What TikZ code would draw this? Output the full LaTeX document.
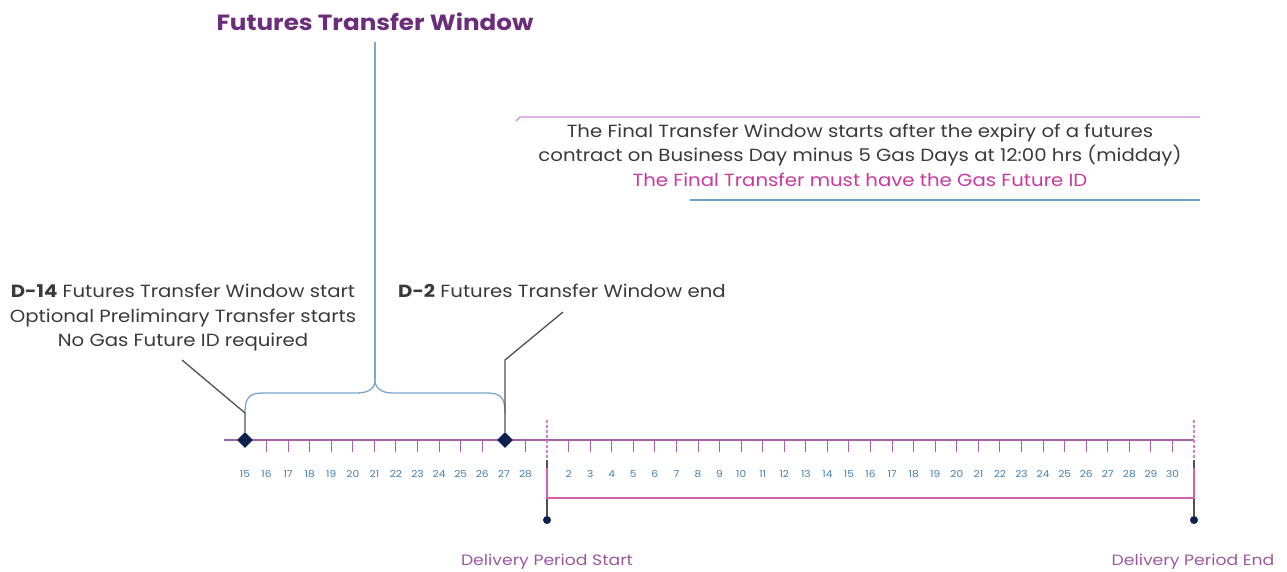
\documentclass[tikz,border=0pt]{standalone}
\usepackage{fontspec}
\setmainfont{Poppins}[FakeStretch=1.12]
\usetikzlibrary{shapes.geometric}
\definecolor{tl}{HTML}{A463A8}
\definecolor{pdash}{HTML}{D77CD0}
\definecolor{ttl}{HTML}{6B2D7B}
\definecolor{brc}{HTML}{7BA7CC}
\definecolor{num}{HTML}{3F7FB0}
\definecolor{gtxt}{HTML}{3A3A3A}
\definecolor{mag}{HTML}{C8389E}
\definecolor{navy}{HTML}{0B2150}
\definecolor{dlv}{HTML}{9B59A0}
\definecolor{lead}{HTML}{505050}
\definecolor{pline}{HTML}{D08AD8}
\definecolor{bline}{HTML}{6AA0CC}
\tikzset{
  body/.style={text=gtxt, font=\fontsize{17.6}{24.5}\selectfont, align=center, inner sep=0pt},
  daynum/.style={text=num, font=\fontsize{9.5}{10}\selectfont, inner sep=0pt},
  tickline/.style={tl, line width=1pt},
  diam/.style={diamond, fill=navy, minimum size=16pt, inner sep=0pt},
  enddot/.style={circle, fill=navy, minimum size=8pt, inner sep=0pt},
  leader/.style={lead, line width=1.3pt},
  dlvlbl/.style={text=dlv, font=\fontsize{15}{17}\selectfont\addfontfeatures{FakeStretch=1.15}, inner sep=0pt},
}
\begin{document}
\begin{tikzpicture}[x=1pt,y=-1pt]
\useasboundingbox (0,0) rectangle (1287,572);
% title
\node[text=ttl, font=\bfseries\fontsize{22}{26}\selectfont, inner sep=0pt] (title) at (375,22) {Futures Transfer Window};
% timeline
\coordinate (tlL) at (224,440);
\coordinate (tlR) at (1194,440);
\draw[tl, line width=1.2pt] (tlL) -- (tlR);
% ticks and numbers, days 15..28
\foreach \d [count=\i from 0] in {15,...,28} {
  \pgfmathsetmacro{\xx}{245+\i*21.57}
  \ifnum\d=15\else\ifnum\d=27\else
    \draw[tickline] (\xx,440) -- (\xx,452);
  \fi\fi
  \node[daynum] (n\d a) at (\xx,474) {\d};
}
\foreach \d in {1,...,30} {
  \pgfmathsetmacro{\xx}{547+(\d-1)*21.57}
  \ifnum\d=1\else
    \draw[tickline] (\xx,440) -- (\xx,452);
  \fi
  \node[daynum] (n\d b) at (\xx,474) {\d};
}
% delivery period markers
\coordinate (dsTop) at (547,420);
\coordinate (deTop) at (1194,420);
\coordinate (dsMid) at (547,460);
\coordinate (deMid) at (1194,460);
\node[enddot] (dsDot) at (547,520) {};
\node[enddot] (deDot) at (1194,520) {};
\draw[leader, line width=1.5pt] (dsMid) -- (dsDot);
\draw[leader, line width=1.5pt] (deMid) -- (deDot);
\draw[pdash, line width=1.2pt, dash pattern=on 3pt off 2pt] (dsTop) -- (dsMid);
\draw[pdash, line width=1.2pt, dash pattern=on 3pt off 2pt] (deTop) -- (deMid);
\coordinate (dsB) at (547,468);
\coordinate (deB) at (1194,468);
\draw[mag!80!white, line width=1.2pt] (dsB) -- (547,498) -- (1194,498) -- (deB);
\node[dlvlbl] (dps) at (547,562) {Delivery Period Start};
\node[dlvlbl] (dpe) at (1193,562) {Delivery Period End};
% brace
\coordinate (brTip) at (375,380);
\draw[brc, line width=1.3pt] (245,413) .. controls (245,398) and (249,393) .. (263,393) -- (357,393) .. controls (369,393) and (375,388) .. (brTip) .. controls (375,388) and (381,393) .. (393,393) -- (487,393) .. controls (501,393) and (505,398) .. (505,413);
\draw[brc, line width=1.3pt] (brTip) -- (title.south |- 0,42);
% diamonds and leaders
\node[diam] (d14) at (245,440) {};
\node[diam] (d2) at (505,440) {};
\coordinate (d14bend) at (245,413);
\coordinate (d14end) at (182,360);
\coordinate (d2bend) at (505,360);
\coordinate (d2end) at (563,312);
\draw[leader] (d14.north) -- (d14bend) -- (d14end);
\draw[leader] (d2.north) -- (d2bend) -- (d2end);
% texts
\node[body, anchor=north] (t14) at (183,284) {\textbf{D-14} Futures Transfer Window start\\Optional Preliminary Transfer starts\\No Gas Future ID required};
\node[body, anchor=north west] (t2) at (398,284) {\textbf{D-2} Futures Transfer Window end};
\node[body, anchor=north] (tfin) at (860,123.5) {The Final Transfer Window starts after the expiry of a futures\\contract on Business Day minus 5 Gas Days at 12:00 hrs (midday)\\\textcolor{mag}{The Final Transfer must have the Gas Future ID}};
% decorative lines
\coordinate (plA) at (516,121);
\coordinate (plB) at (1200,117);
\draw[pline, line width=1.2pt] (plA) -- (520,117) -- (plB);
\coordinate (blA) at (690,200);
\coordinate (blB) at (1200,200);
\draw[bline, line width=1.2pt] (blA) -- (blB);
\end{tikzpicture}
\end{document}
